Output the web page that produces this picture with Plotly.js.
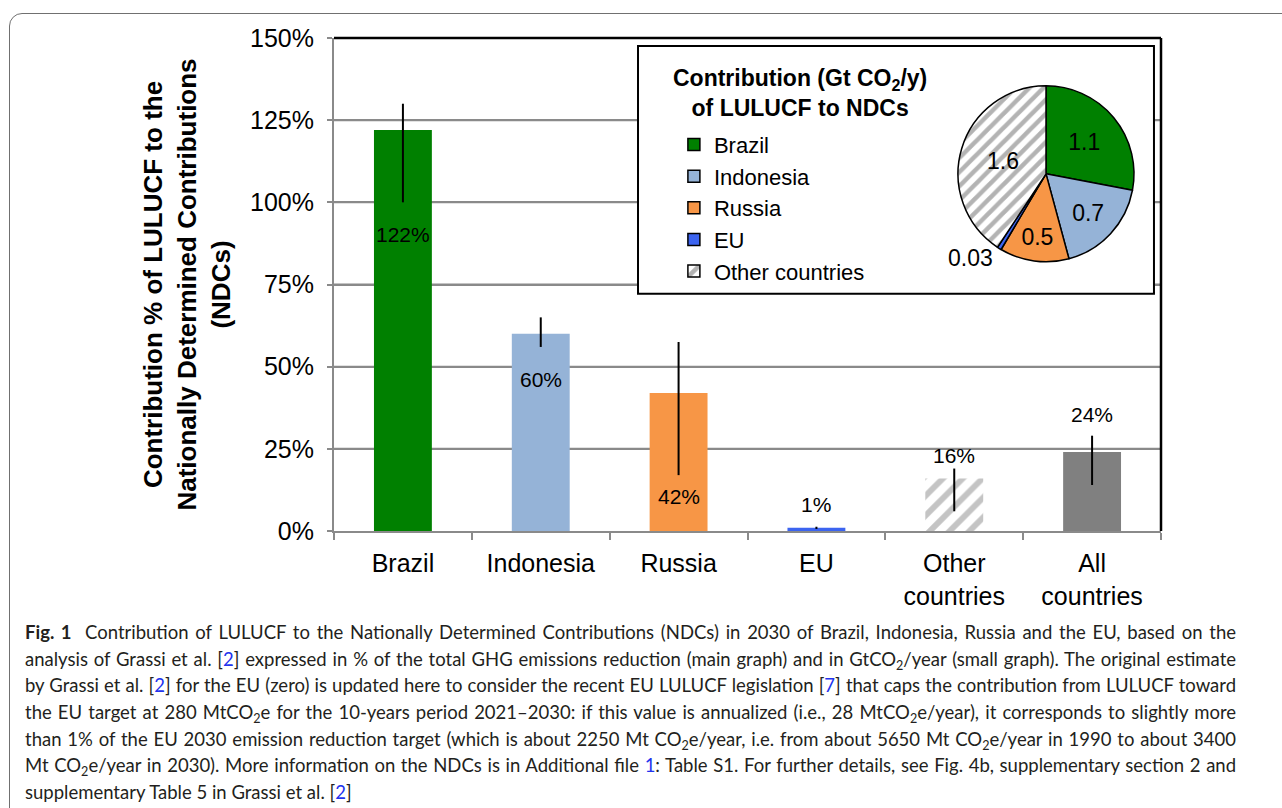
<!DOCTYPE html>
<html>
<head>
<meta charset="utf-8">
<script src="https://cdn.plot.ly/plotly-3.0.1.min.js"></script>
<style>
html,body{margin:0;padding:0;background:#fff;overflow:hidden;}
#wrap{position:relative;width:1282px;height:808px;overflow:hidden;background:#fff;}
#chart{position:absolute;left:0;top:0;width:1282px;height:808px;}
#frame{position:absolute;left:9px;top:13px;width:1330px;height:860px;border:1.5px solid #707070;border-radius:13px;box-sizing:border-box;pointer-events:none;}
#caption{position:absolute;left:25px;top:619px;width:1211px;font-family:Lato,"Noto Sans",sans-serif;font-size:18.5px;line-height:26.7px;color:#231f20;}
#caption .ln{white-space:nowrap;text-align:justify;text-align-last:justify;height:26.7px;}
#caption .ln.last{text-align-last:left;}
#caption .r{color:#2233ee;}
#caption sub{font-size:68%;vertical-align:-0.28em;line-height:0;}
</style>
</head>
<body>
<div id="wrap">
  <div id="chart"></div>
  <div id="frame"></div>
  <div id="caption">
    <div class="ln"><b>Fig. 1</b>&nbsp;&nbsp;Contribution of LULUCF to the Nationally Determined Contributions (NDCs) in 2030 of Brazil, Indonesia, Russia and the EU, based on the</div>
    <div class="ln">analysis of Grassi et al. [<span class="r">2</span>] expressed in % of the total GHG emissions reduction (main graph) and in GtCO<sub>2</sub>/year (small graph). The original estimate</div>
    <div class="ln">by Grassi et al. [<span class="r">2</span>] for the EU (zero) is updated here to consider the recent EU LULUCF legislation [<span class="r">7</span>] that caps the contribution from LULUCF toward</div>
    <div class="ln">the EU target at 280 MtCO<sub>2</sub>e for the 10-years period 2021–2030: if this value is annualized (i.e., 28 MtCO<sub>2</sub>e/year), it corresponds to slightly more</div>
    <div class="ln">than 1% of the EU 2030 emission reduction target (which is about 2250 Mt CO<sub>2</sub>e/year, i.e. from about 5650 Mt CO<sub>2</sub>e/year in 1990 to about 3400</div>
    <div class="ln">Mt CO<sub>2</sub>e/year in 2030). More information on the NDCs is in Additional file <span class="r">1</span>: Table S1. For further details, see Fig. 4b, supplementary section 2 and</div>
    <div class="ln last">supplementary Table 5 in Grassi et al. [<span class="r">2</span>]</div>
  </div>
</div>
<script>
// ---- Data ----
const categories   = ['Brazil', 'Indonesia', 'Russia', 'EU', 'Other<br>countries', 'All<br>countries'];
const contribution = [122, 60, 42, 1, 16, 24];          // % of NDC reduction
const rangeLow     = [100, 56, 17, 0.6, 6, 14];         // error bar lower bound (%)
const rangeHigh    = [130, 65, 57.5, 1.3, 19, 29];      // error bar upper bound (%)
const barLabels    = ['122%', '60%', '42%', '1%', '16%', '24%'];

const pieLabels = ['Brazil', 'Indonesia', 'Russia', 'EU', 'Other countries'];
const pieValues = [1.1, 0.7, 0.5, 0.03, 1.6];            // Gt CO2 / y

const yTicks = [0, 25, 50, 75, 100, 125, 150];
const yMax = 150;

// ---- Styles ----
const barColors = ['#008000', '#95b3d7', '#f79646', '#3c64f0', '#c4c4c4', '#808080'];
const barPattern = ['', '', '', '', '/', ''];
const pieColors = ['#008000', '#95b3d7', '#f79646', '#3c64f0', '#b8b8b8'];
const piePattern = ['', '', '', '', '/'];
// label placement: anchor at low or high end of the error bar, with pixel shift
const labelAnchor = ['low', 'low', 'low', 'high', 'high', 'high'];
const labelShift  = [-32, -33, -21, 22, 13, 21];
// inset box (pie + legend) as fractions of the plot area
const inset = {x0: 0.3676, x1: 0.9915, y0: 0.481, y1: 0.984};

const FONT = '"Liberation Sans", Arial, sans-serif';
const GRID = '#8a8a8a';

const bars = {
  type: 'bar',
  x: categories,
  y: contribution,
  width: 0.42,
  marker: {
    color: barColors,
    line: {width: 0},
    pattern: {shape: barPattern, fgcolor: '#c4c4c4', bgcolor: 'white', size: 14, solidity: 0.42}
  },
  error_y: {
    type: 'data', symmetric: false,
    array: contribution.map((v, i) => rangeHigh[i] - v),
    arrayminus: contribution.map((v, i) => v - rangeLow[i]),
    color: '#000', thickness: 2, width: 0
  },
  showlegend: false,
  hoverinfo: 'none'
};

const pie = {
  type: 'pie',
  labels: pieLabels,
  values: pieValues,
  sort: false,
  direction: 'clockwise',
  rotation: 0,
  domain: {x: [0.7545, 0.9674], y: [0.546, 0.903]},
  marker: {
    colors: pieColors,
    line: {color: '#000', width: 1.5},
    pattern: {shape: piePattern, fgcolor: '#b3b3b3', bgcolor: 'white', size: 10, solidity: 0.45}
  },
  textinfo: 'value',
  textposition: ['inside', 'inside', 'inside', 'outside', 'inside'],
  insidetextorientation: 'horizontal',
  textfont: {family: FONT, size: 23, color: '#000'},
  hoverinfo: 'none',
  showlegend: true
};

const annotations = categories.map((c, i) => ({
  x: i,
  y: labelAnchor[i] === 'low' ? rangeLow[i] : rangeHigh[i],
  xref: 'x', yref: 'y',
  text: barLabels[i],
  showarrow: false,
  xanchor: 'center',
  yanchor: 'middle',
  yshift: labelShift[i],
  font: {family: FONT, size: 21, color: '#000'}
}));
annotations.push({
  xref: 'paper', yref: 'paper', x: 0.563, y: 0.889,
  text: '<b>Contribution (Gt CO<sub>2</sub>/y)<br>of LULUCF to NDCs</b>',
  showarrow: false, align: 'center', xanchor: 'center', yanchor: 'middle',
  font: {family: FONT, size: 23, color: '#000'}
});

// category axis spans [-0.5, n-0.5]; convert fractions of the plot area to axis units
const nCat = categories.length;
const toX = f => -0.5 + f * nCat;
const toY = f => f * yMax;

// horizontal gridlines at the inner y ticks, drawn above the grid layer and below the traces
const gridShapes = yTicks.filter(v => v > 0 && v < yMax).map(v => ({
  type: 'line', xref: 'x', yref: 'y', x0: -0.5, x1: nCat - 0.5, y0: v, y1: v,
  line: {color: GRID, width: 2}, layer: 'between'
}));

const layout = {
  width: 1282, height: 808,
  margin: {l: 334, r: 121, t: 38, b: 277},
  paper_bgcolor: 'rgba(0,0,0,0)',
  plot_bgcolor: 'white',
  font: {family: FONT, size: 25, color: '#000'},
  showlegend: true,
  legend: {
    x: 0.411, xanchor: 'left', y: 0.826, yanchor: 'top',
    font: {family: FONT, size: 22, color: '#000'},
    bgcolor: 'rgba(0,0,0,0)', borderwidth: 0, itemwidth: 30, traceorder: 'normal'
  },
  xaxis: {
    type: 'category', range: [-0.5, nCat - 0.5],
    showline: true, linecolor: GRID, linewidth: 2,
    ticks: 'outside', tickson: 'boundaries', ticklen: 7, tickcolor: GRID, tickwidth: 2,
    ticklabelstandoff: 9,
    tickfont: {family: FONT, size: 25, color: '#000'},
    showgrid: false, zeroline: false, fixedrange: true
  },
  yaxis: {
    range: [0, yMax],
    tickmode: 'array', tickvals: yTicks, ticktext: yTicks.map(v => v + '%'),
    showline: true, linecolor: GRID, linewidth: 2,
    ticks: 'outside', ticklen: 5, tickcolor: GRID, tickwidth: 2,
    ticklabelstandoff: 8,
    tickfont: {family: FONT, size: 25, color: '#000'},
    showgrid: true, gridcolor: GRID, gridwidth: 2,
    zeroline: false, fixedrange: true,
    title: {
      text: '<b>Contribution % of LULUCF to the<br>Nationally Determined Contributions<br>(NDCs)</b>',
      font: {family: FONT, size: 26, color: '#000'},
      standoff: 12
    }
  },
  shapes: gridShapes.concat([
    // inset box around the pie and its legend: covers the gridlines, stays below the traces
    {type: 'rect', xref: 'x', yref: 'y',
     x0: toX(inset.x0), x1: toX(inset.x1), y0: toY(inset.y0), y1: toY(inset.y1),
     line: {color: '#000', width: 2}, fillcolor: 'white', layer: 'between'},
    // black top and right frame of the plot area
    {type: 'line', xref: 'paper', yref: 'paper', x0: 0, x1: 1, y0: 1, y1: 1, line: {color: '#000', width: 2.5}, layer: 'above'},
    {type: 'line', xref: 'paper', yref: 'paper', x0: 1, x1: 1, y0: 0, y1: 1, line: {color: '#000', width: 2.5}, layer: 'above'}
  ]),
  annotations: annotations
};

Plotly.newPlot('chart', [bars, pie], layout, {displayModeBar: false, staticPlot: true});
</script>
</body>
</html>
